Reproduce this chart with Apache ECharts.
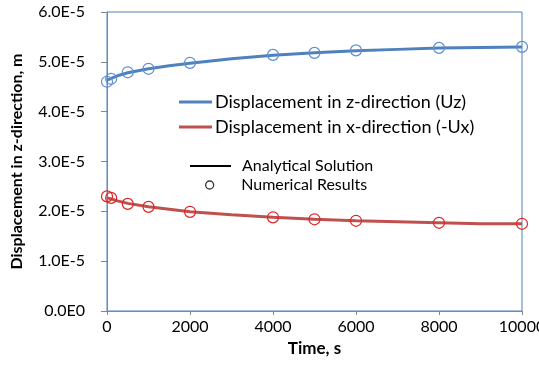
<!DOCTYPE html>
<html>
<head>
<meta charset="utf-8">
<script src="https://cdn.jsdelivr.net/npm/echarts@6/dist/echarts.min.js"></script>
<style>
  html, body { margin: 0; padding: 0; background: #fff; }
  #chart { width: 539px; height: 372px; }
</style>
</head>
<body>
<div id="chart"></div>
<script>
// analytical curves (time in s, displacement in m)
var lineTime = [0, 100, 250, 500, 1000, 1500, 2000, 3000, 4000, 5000, 6000, 7000, 8000, 9000, 10000];
var uzLine = [4.63e-5, 4.67e-5, 4.72e-5, 4.78e-5, 4.86e-5, 4.92e-5, 4.97e-5, 5.06e-5, 5.13e-5, 5.18e-5, 5.22e-5, 5.25e-5, 5.28e-5, 5.29e-5, 5.30e-5];
var uxLine = [2.27e-5, 2.25e-5, 2.21e-5, 2.16e-5, 2.09e-5, 2.04e-5, 1.99e-5, 1.93e-5, 1.88e-5, 1.84e-5, 1.81e-5, 1.79e-5, 1.77e-5, 1.75e-5, 1.75e-5];

// numerical results
var numTime = [0, 100, 500, 1000, 2000, 4000, 5000, 6000, 8000, 10000];
var uzNum = [4.60e-5, 4.66e-5, 4.79e-5, 4.86e-5, 4.98e-5, 5.14e-5, 5.18e-5, 5.23e-5, 5.28e-5, 5.30e-5];
var uxNum = [2.30e-5, 2.27e-5, 2.15e-5, 2.09e-5, 1.99e-5, 1.88e-5, 1.84e-5, 1.81e-5, 1.77e-5, 1.75e-5];

var blue = '#4f81bd';
var red = '#c0504d';
var font = 'Lato';

function pairs(xs, ys) {
  var out = [];
  for (var i = 0; i < xs.length; i++) out.push([xs[i], ys[i]]);
  return out;
}

function sci(v) {
  if (v === 0) return '0.0E0';
  return v.toExponential(1).toUpperCase().replace('+', '');
}

var chart = echarts.init(document.getElementById('chart'));

var option = {
  animation: false,
  textStyle: { fontFamily: font },
  grid: {
    left: 107, right: 17, top: 12, bottom: 61,
    outerBoundsMode: 'none',
    show: true, borderColor: blue, borderWidth: 1
  },
  legend: [{
    data: [
      { name: 'Displacement in z-direction (Uz)', icon: 'rect' },
      { name: 'Displacement in x-direction (-Ux)', icon: 'rect' }
    ],
    orient: 'vertical',
    left: 174, top: 88,
    itemWidth: 33, itemHeight: 3, itemGap: 7,
    textStyle: { fontSize: 18, color: '#000', fontFamily: font, padding: [0, 0, 0, -2] }
  }, {
    data: [{ name: 'Analytical Solution', icon: 'rect' }],
    left: 185, top: 153,
    itemWidth: 41, itemHeight: 2,
    textStyle: { fontSize: 16, color: '#000', fontFamily: font, padding: [0, 0, 0, 6] }
  }, {
    data: [{
      name: 'Numerical Results', icon: 'circle',
      itemStyle: { color: '#fff', borderColor: '#000', borderWidth: 1.3 }
    }],
    left: 200, top: 172,
    itemWidth: 41, itemHeight: 8,
    textStyle: { fontSize: 16, color: '#000', fontFamily: font, padding: [0, 0, 0, 6] }
  }],
  xAxis: {
    type: 'value',
    min: 0, max: 10000, interval: 2000,
    name: 'Time, s',
    nameLocation: 'middle', nameGap: 18,
    nameTextStyle: { fontSize: 17, fontWeight: 'bold', color: '#000', fontFamily: font },
    axisLine: { lineStyle: { color: '#868686' } },
    axisTick: { show: true, length: 4, lineStyle: { color: '#868686' } },
    axisLabel: { fontSize: 16, color: '#000', margin: 8, fontFamily: font, formatter: function (v) { return String(v); } },
    splitLine: { show: false }
  },
  yAxis: {
    type: 'value',
    min: 0, max: 6e-5, interval: 1e-5,
    name: 'Displacement in z-direction, m',
    nameLocation: 'middle', nameGap: 82,
    nameTextStyle: { fontSize: 16, fontWeight: 'bold', color: '#000', fontFamily: font },
    axisLine: { show: true, lineStyle: { color: '#868686' } },
    axisTick: { show: true, length: 6, lineStyle: { color: '#868686' } },
    axisLabel: { fontSize: 16, color: '#000', margin: 22, formatter: sci, fontFamily: font },
    splitLine: { show: false }
  },
  series: [{
    name: 'Displacement in z-direction (Uz)',
    type: 'line',
    data: pairs(lineTime, uzLine),
    showSymbol: false, symbol: 'none',
    lineStyle: { color: blue, width: 3 },
    itemStyle: { color: blue },
    z: 3
  }, {
    name: 'Displacement in x-direction (-Ux)',
    type: 'line',
    data: pairs(lineTime, uxLine),
    showSymbol: false, symbol: 'none',
    lineStyle: { color: red, width: 3 },
    itemStyle: { color: red },
    z: 3
  }, {
    name: 'uz-num',
    type: 'scatter',
    data: pairs(numTime, uzNum),
    symbol: 'circle', symbolSize: 11,
    itemStyle: { color: 'rgba(0,0,0,0)', borderColor: '#5b8fd0', borderWidth: 1.2, opacity: 1 },
    z: 4
  }, {
    name: 'ux-num',
    type: 'scatter',
    data: pairs(numTime, uxNum),
    symbol: 'circle', symbolSize: 11,
    itemStyle: { color: 'rgba(0,0,0,0)', borderColor: '#e02424', borderWidth: 1.2, opacity: 1 },
    z: 4
  }, {
    name: 'Analytical Solution',
    type: 'line',
    data: [],
    symbol: 'none',
    lineStyle: { color: '#000', width: 2 },
    itemStyle: { color: '#000' }
  }, {
    name: 'Numerical Results',
    type: 'scatter',
    data: [],
    symbol: 'circle',
    itemStyle: { color: '#fff', borderColor: '#000', borderWidth: 1.3 }
  }]
};

chart.setOption(option);
</script>
</body>
</html>
